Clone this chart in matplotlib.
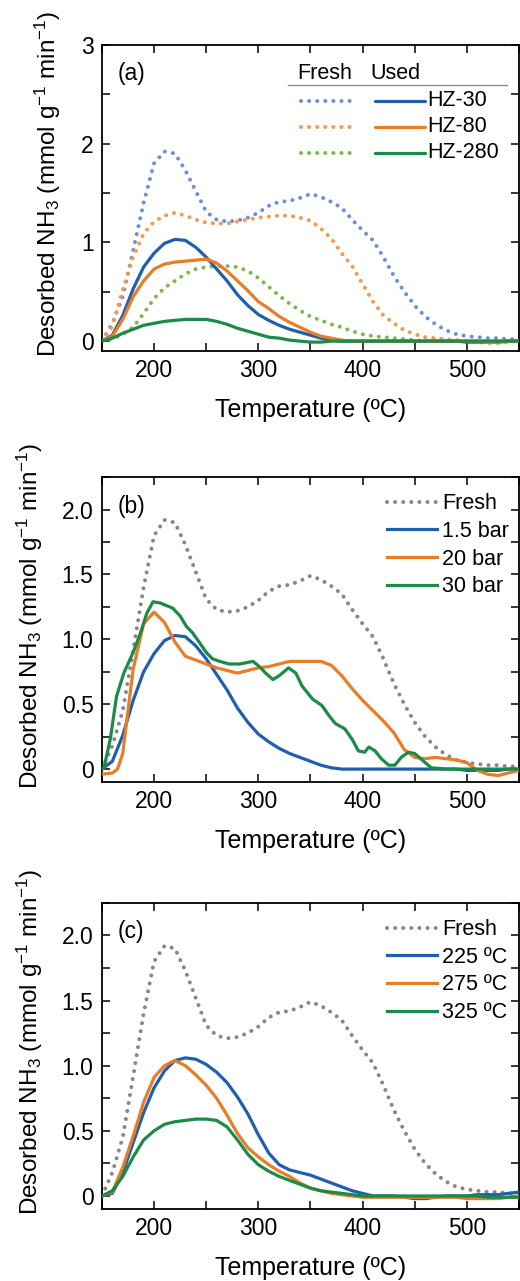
import matplotlib
matplotlib.use('agg')
import matplotlib.pyplot as plt
import matplotlib.ticker as tick
from matplotlib.lines import Line2D

plt.rcParams['font.family'] = ['Liberation Sans', 'DejaVu Sans']
plt.rcParams['mathtext.fontset'] = 'custom'
plt.rcParams['mathtext.rm'] = 'Liberation Sans'
plt.rcParams['mathtext.it'] = 'Liberation Sans:italic'

# temperature grid (ºC) shared by most traces
temp = list(range(150, 560, 10))

# fresh HZ-30 (also the "Fresh" reference in b and c)
fresh_hz30 = [0.0, 0.18, 0.45, 0.92, 1.40, 1.80, 1.92, 1.90, 1.73, 1.52,
              1.31, 1.23, 1.21, 1.22, 1.25, 1.30, 1.37, 1.41, 1.42, 1.45,
              1.49, 1.46, 1.41, 1.35, 1.23, 1.12, 1.02, 0.85, 0.66, 0.50,
              0.36, 0.25, 0.17, 0.11, 0.07, 0.05, 0.04, 0.03, 0.03, 0.02, 0.02]
fresh_hz80 = [0.0, 0.15, 0.52, 0.85, 1.09, 1.21, 1.27, 1.30, 1.27, 1.23,
              1.20, 1.19, 1.19, 1.21, 1.23, 1.25, 1.26, 1.27, 1.27, 1.25,
              1.22, 1.14, 1.04, 0.89, 0.76, 0.58, 0.40, 0.26, 0.18, 0.11,
              0.07, 0.04, 0.03, 0.02, 0.01, 0.0, -0.01, -0.02, -0.02, -0.01, 0.0]
fresh_hz280 = [0.0, 0.02, 0.07, 0.14, 0.28, 0.43, 0.54, 0.61, 0.68, 0.73,
               0.75, 0.76, 0.76, 0.75, 0.71, 0.64, 0.55, 0.46, 0.38, 0.31,
               0.25, 0.21, 0.17, 0.14, 0.10, 0.07, 0.05, 0.04, 0.03, 0.02,
               0.01, 0.0, 0.0, 0.0, 0.0, 0.0, 0.0, 0.0, 0.0, 0.0, 0.0]

# used catalysts (also the 1.5 bar trace in b)
used_hz30 = [0.0, 0.06, 0.26, 0.53, 0.75, 0.89, 0.99, 1.03, 1.02, 0.95,
             0.85, 0.73, 0.61, 0.47, 0.36, 0.27, 0.21, 0.16, 0.12, 0.09,
             0.06, 0.03, 0.01, 0.0, 0.0, 0.0, 0.0, 0.0, 0.0, 0.0,
             0.0, 0.0, 0.0, 0.0, 0.0, -0.01, -0.01, -0.01, -0.01, 0.0, 0.0]
used_hz80 = [0.0, 0.05, 0.22, 0.45, 0.61, 0.73, 0.78, 0.80, 0.81, 0.82,
             0.83, 0.79, 0.71, 0.61, 0.51, 0.40, 0.33, 0.25, 0.19, 0.14,
             0.09, 0.05, 0.03, 0.01, 0.0, 0.0, 0.0, 0.0, 0.0, 0.0,
             0.0, 0.0, 0.0, 0.0, 0.0, 0.0, 0.0, -0.01, -0.01, 0.0, 0.0]
used_hz280 = [0.0, 0.03, 0.08, 0.12, 0.16, 0.18, 0.20, 0.21, 0.22, 0.22,
              0.22, 0.20, 0.17, 0.13, 0.10, 0.07, 0.04, 0.03, 0.01, 0.0,
              -0.01, -0.01, 0.0, 0.0, 0.0, 0.0, 0.0, 0.0, 0.0, 0.0,
              0.0, 0.0, 0.0, 0.0, 0.0, 0.0, 0.0, 0.0, 0.0, 0.0, 0.0]

# reaction pressure series (b)
temp_20bar = [150, 160, 165, 170, 175, 180, 190, 200, 210, 220, 230, 240,
              250, 260, 270, 280, 290, 300, 310, 320, 330, 340, 350, 360,
              370, 380, 390, 400, 410, 420, 430, 440, 450, 460, 470, 480,
              490, 500, 510, 520, 530, 540, 550]
p20bar = [-0.04, -0.03, 0.0, 0.12, 0.45, 0.77, 1.12, 1.21, 1.13, 0.98, 0.87,
          0.84, 0.81, 0.78, 0.76, 0.74, 0.76, 0.78, 0.79, 0.81, 0.83, 0.83,
          0.83, 0.83, 0.80, 0.72, 0.62, 0.53, 0.45, 0.37, 0.28, 0.15, 0.09,
          0.08, 0.09, 0.08, 0.07, 0.05, -0.01, -0.04, -0.05, -0.03, -0.01]
temp_30bar = [150, 152, 158, 164, 171, 180, 187, 193, 199, 206, 212, 218,
              225, 231, 237, 244, 250, 256, 263, 272, 282, 295, 301, 307,
              314, 320, 329, 336, 342, 352, 361, 368, 374, 383, 390, 396,
              402, 406, 412, 418, 425, 431, 437, 444, 450, 460, 466, 480,
              500, 520, 550]
p30bar = [0.0, 0.01, 0.23, 0.56, 0.74, 0.90, 1.05, 1.20, 1.29, 1.28, 1.26,
          1.24, 1.18, 1.10, 1.05, 0.97, 0.90, 0.85, 0.83, 0.81, 0.81, 0.83,
          0.79, 0.74, 0.69, 0.72, 0.78, 0.74, 0.64, 0.54, 0.49, 0.41, 0.35,
          0.31, 0.23, 0.14, 0.13, 0.17, 0.14, 0.08, 0.03, 0.03, 0.09, 0.13,
          0.12, 0.05, 0.01, 0.0, 0.0, 0.0, 0.0]

# reaction temperature series (c)
t225 = [0.0, 0.02, 0.18, 0.41, 0.64, 0.83, 0.96, 1.04, 1.06, 1.05,
        1.01, 0.95, 0.87, 0.76, 0.63, 0.47, 0.33, 0.24, 0.20, 0.18,
        0.16, 0.13, 0.10, 0.07, 0.04, 0.02, 0.0, 0.0, 0.0, -0.01,
        -0.02, -0.02, -0.01, 0.0, 0.0, 0.0, 0.01, 0.01, 0.01, 0.02, 0.03]
t275 = [0.0, 0.03, 0.22, 0.46, 0.72, 0.91, 1.00, 1.04, 1.00, 0.93,
        0.85, 0.75, 0.62, 0.48, 0.37, 0.30, 0.24, 0.19, 0.15, 0.10,
        0.06, 0.04, 0.02, 0.01, 0.0, -0.01, -0.01, -0.01, -0.01, -0.01,
        -0.01, -0.01, -0.01, -0.01, -0.01, -0.02, -0.02, -0.02, -0.02, -0.01, 0.0]
t325 = [0.0, 0.04, 0.15, 0.30, 0.43, 0.50, 0.55, 0.57, 0.58, 0.59,
        0.59, 0.58, 0.53, 0.43, 0.32, 0.24, 0.19, 0.15, 0.12, 0.09,
        0.06, 0.04, 0.03, 0.02, 0.01, 0.0, 0.0, 0.0, 0.0, 0.0,
        0.0, 0.0, 0.0, 0.0, 0.0, 0.0, 0.0, -0.01, -0.01, -0.01, -0.01]

BLUE = '#1f5fae'
ORANGE = '#e87d25'
GREEN = '#1b8b47'
LBLUE = '#6d8fd5'
LORANGE = '#f29a4e'
LGREEN = '#7db84e'
GRAY = '#878787'

LW = 2.3
DOT_LW = 2.9
DOTS = (0, (0.01, 2.0))
KEY_FS = 15.5

YLABEL = r'Desorbed NH$_3$ (mmol g$^{-1}$ min$^{-1}$)'


def dotted(ax, x, y, color, label=None):
    ax.plot(x, y, color=color, lw=DOT_LW, linestyle=DOTS,
            dash_capstyle='round', label=label, zorder=2)


def solid(ax, x, y, color, label=None):
    ax.plot(x, y, color=color, lw=LW, label=label, zorder=3)


def style_axes(ax, ymax, ymajor, yminor, ylabel_x, tag):
    ax.set_xlim(150, 550)
    ax.set_ylim(-0.1, ymax)
    ax.xaxis.set_major_locator(tick.FixedLocator([200, 300, 400, 500]))
    ax.xaxis.set_minor_locator(tick.FixedLocator([150, 250, 350, 450, 550]))
    ax.yaxis.set_major_locator(tick.MultipleLocator(ymajor))
    ax.yaxis.set_minor_locator(tick.MultipleLocator(yminor))
    if ymajor < 1:
        ax.yaxis.set_major_formatter(tick.FuncFormatter(
            lambda v, p: '0' if abs(v) < 1e-9 else '%.1f' % v))
    else:
        ax.yaxis.set_major_formatter(tick.FuncFormatter(lambda v, p: '%d' % v))
    ax.tick_params(which='both', direction='in', top=True, right=True,
                   length=6, width=1.1, labelsize=16.5, pad=6)
    for sp in ax.spines.values():
        sp.set_linewidth(1.3)
    ax.set_xlabel('Temperature (ºC)', fontsize=18, labelpad=11)
    ax.set_ylabel(YLABEL, fontsize=17.5)
    ax.yaxis.set_label_coords(ylabel_x, 0.545)
    ax.text(0.038, 0.905, tag, transform=ax.transAxes, fontsize=16.5,
            va='center', ha='left')


fig = plt.figure(figsize=(5.2, 12.81), dpi=100)
ax_a = fig.add_axes([0.196, 0.726, 0.802, 0.239])
ax_b = fig.add_axes([0.196, 0.3895, 0.802, 0.238])
ax_c = fig.add_axes([0.196, 0.0562, 0.802, 0.239])

# (a) fresh vs used zeolites
dotted(ax_a, temp, fresh_hz30, LBLUE)
dotted(ax_a, temp, fresh_hz80, LORANGE)
dotted(ax_a, temp, fresh_hz280, LGREEN)
solid(ax_a, temp, used_hz30, BLUE)
solid(ax_a, temp, used_hz80, ORANGE)
solid(ax_a, temp, used_hz280, GREEN)
style_axes(ax_a, 3.0, 1, 0.5, -0.094, '(a)')

# two-column key: fresh (dotted) / used (solid)
ax_a.text(0.468, 0.905, 'Fresh', transform=ax_a.transAxes, fontsize=KEY_FS,
          va='center', ha='left')
ax_a.text(0.643, 0.905, 'Used', transform=ax_a.transAxes, fontsize=KEY_FS,
          va='center', ha='left')
ax_a.add_line(Line2D([0.446, 0.971], [0.869, 0.869], transform=ax_a.transAxes,
                     color='#8a8a8a', lw=1.0))
rows = [('HZ-30', LBLUE, BLUE), ('HZ-80', LORANGE, ORANGE),
        ('HZ-280', LGREEN, GREEN)]
for i, (name, c_fresh, c_used) in enumerate(rows):
    yy = 0.817 - i * 0.085
    ax_a.add_line(Line2D([0.478, 0.595], [yy, yy], transform=ax_a.transAxes,
                         color=c_fresh, lw=DOT_LW, linestyle=DOTS,
                         dash_capstyle='round'))
    ax_a.add_line(Line2D([0.655, 0.775], [yy, yy], transform=ax_a.transAxes,
                         color=c_used, lw=LW, solid_capstyle='round'))
    ax_a.text(0.78, yy, name, transform=ax_a.transAxes, fontsize=KEY_FS,
              va='center', ha='left')

# (b) effect of pressure
dotted(ax_b, temp, fresh_hz30, GRAY, 'Fresh')
solid(ax_b, temp, used_hz30, BLUE, '1.5 bar')
solid(ax_b, temp_20bar, p20bar, ORANGE, '20 bar')
solid(ax_b, temp_30bar, p30bar, GREEN, '30 bar')
style_axes(ax_b, 2.25, 0.5, 0.25, -0.137, '(b)')

# (c) effect of temperature
dotted(ax_c, temp, fresh_hz30, GRAY, 'Fresh')
solid(ax_c, temp, t225, BLUE, '225 ºC')
solid(ax_c, temp, t275, ORANGE, '275 ºC')
solid(ax_c, temp, t325, GREEN, '325 ºC')
style_axes(ax_c, 2.25, 0.5, 0.25, -0.137, '(c)')

for ax in (ax_b, ax_c):
    ax.legend(loc='upper left', bbox_to_anchor=(0.684, 0.947), frameon=False,
              fontsize=KEY_FS, handlelength=2.33, handletextpad=0.23,
              labelspacing=0.31, borderpad=0, borderaxespad=0)

fig.savefig('out.png', dpi=100, facecolor='white')
